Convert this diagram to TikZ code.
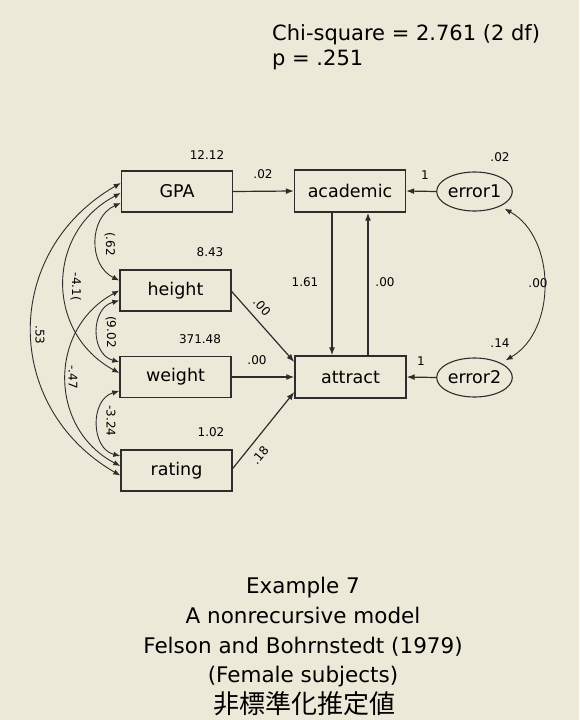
\documentclass[tikz,border=0pt]{standalone}
\usepackage{fontspec}
\setmainfont{DejaVu Sans}
\newfontfamily\jpfont{Noto Sans CJK JP}
\usetikzlibrary{arrows.meta,shapes.geometric,calc}
\definecolor{bgc}{RGB}{236,233,216}
\definecolor{ln}{RGB}{45,45,45}
\begin{document}
\begin{tikzpicture}[x=1pt,y=-1pt,
  var/.style={draw=ln, line width=1.4pt, minimum width=111pt, minimum height=41pt, inner sep=0pt, font=\fontsize{17.5}{20}\selectfont},
  err/.style={ellipse, draw=ln, line width=1.1pt, minimum width=75pt, minimum height=39pt, inner sep=0pt, font=\fontsize{17.5}{20}\selectfont},
  conn/.style={draw=ln, line width=1.2pt, -{Latex[length=8pt,width=6pt]}},
  cov/.style={draw=ln, line width=0.9pt, {Latex[length=7pt,width=5.5pt]}-{Latex[length=7pt,width=5.5pt]}},
  num/.style={font=\fontsize{12}{14}\selectfont, inner sep=0pt},
  ttl/.style={font=\fontsize{21.5}{24}\selectfont, inner sep=0pt}
]
\fill[bgc] (0,0) rectangle (579,720);
\useasboundingbox (0,0) rectangle (579,720);

% header
\node[ttl, anchor=base west, font=\fontsize{21}{24}\selectfont] (chi) at (272,40) {Chi-square = 2.761 (2 df)};
\node[ttl, anchor=base west, font=\fontsize{21}{24}\selectfont] (pval) at (272,65) {p = .251};

% observed variables
\node[var] (GPA) at (177,191.5) {GPA};
\node[var] (height) at (175.5,290.5) {height};
\node[var] (weight) at (175.5,377) {weight};
\node[var] (rating) at (176.5,470.5) {rating};
\node[var, minimum height=42pt] (academic) at (350,191) {academic};
\node[var, minimum height=42pt] (attract) at (350.5,377) {attract};
\node[err] (error1) at (474.5,191.5) {error1};
\node[err] (error2) at (474.5,377.5) {error2};

% anchor points
\coordinate (g1) at ($(GPA.west)+(0,-8.5)$);
\coordinate (g2) at ($(GPA.west)+(0,1.5)$);
\coordinate (g3) at ($(GPA.west)+(0,11.5)$);
\coordinate (h1) at ($(height.west)+(0,-10)$);
\coordinate (h2) at ($(height.west)+(0,0)$);
\coordinate (h3) at ($(height.west)+(0,10)$);
\coordinate (w1) at ($(weight.west)+(0,-15)$);
\coordinate (w2) at ($(weight.west)+(0,-4)$);
\coordinate (w3) at ($(weight.west)+(0,14)$);
\coordinate (r1) at ($(rating.west)+(0,-14.5)$);
\coordinate (r2) at ($(rating.west)+(0,-4.5)$);
\coordinate (r3) at ($(rating.west)+(0,5)$);
\coordinate (a1) at ($(attract.west)+(0,-15)$);
\coordinate (a3) at ($(attract.west)+(0,15)$);
\coordinate (acdn) at ($(academic.south)+(-18,0)$);
\coordinate (atdn) at ($(attract.north)+(-18.5,0)$);
\coordinate (acup) at ($(academic.south)+(18,0)$);
\coordinate (atup) at ($(attract.north)+(17.5,0)$);
\coordinate (hr) at ($(height.east)+(0,1)$);
\coordinate (rr) at ($(rating.east)+(0,-2)$);

% regression paths
\draw[conn] (GPA.east) -- (academic.west);
\draw[conn] (hr) -- (a1);
\draw[conn] (weight.east) -- (attract.west);
\draw[conn] (rr) -- (a3);
\draw[conn] (acdn) -- (atdn);
\draw[conn] (atup) -- (acup);
\draw[conn] (error1.west) -- (academic.east);
\draw[conn] (error2.west) -- (attract.east);

% covariances
\draw[cov] (g3) to[bend right=65, looseness=1.15] (h1);
\draw[cov] (h3) to[bend right=75, looseness=1.25] (w1);
\draw[cov] (w3) to[bend right=75, looseness=1.2] (r1);
\draw[cov] (g2) to[bend right=62, looseness=1.2] (w2);
\draw[cov] (h2) to[bend right=62, looseness=1.18] (r2);
\draw[cov] (g1) to[bend right=60, looseness=1.2] (r3);
\draw[cov] ($(error1.south east)+(3,3)$) to[bend left=60] ($(error2.north east)+(4,-3)$);

% variance labels
\node[num] (vGPA) at (207,155) {12.12};
\node[num] (vh) at (210,252) {8.43};
\node[num] (vw) at (200,339) {371.48};
\node[num] (vr) at (211,432) {1.02};
\node[num] (ve1) at (500,157) {.02};
\node[num] (ve2) at (500,343) {.14};

% path labels
\node[num] (lGA) at (263,174) {.02};
\node[num, rotate=-48] (lHA) at (262,307) {.00};
\node[num] (lWA) at (257,360) {.00};
\node[num, rotate=50] (lRA) at (260,455) {.18};
\node[num] (lAcAt) at (305,282) {1.61};
\node[num] (lAtAc) at (385,282) {.00};
\node[num] (l1a) at (425,175) {1};
\node[num] (l1b) at (421,361) {1};
\node[num] (lee) at (538,283) {.00};

% covariance labels
\node[num, rotate=-90] (cGH) at (110,244) {(.62};
\node[num, rotate=-90] (cGW) at (76,287) {-4.1(};
\node[num, rotate=-90] (cHW) at (111,332) {(9.02};
\node[num, rotate=-90] (cGR) at (40,335) {.53};
\node[num, rotate=-90] (cHR) at (73,377) {-.47};
\node[num, rotate=-90] (cWR) at (111,421) {-3.24};

% title
\node[ttl, anchor=base] (t1) at (303,593) {Example 7};
\node[ttl, anchor=base] (t2) at (303,623) {A nonrecursive model};
\node[ttl, anchor=base] (t3) at (303,653) {Felson and Bohrnstedt (1979)};
\node[ttl, anchor=base] (t4) at (303,682) {(Female subjects)};
\node[inner sep=0pt, font=\jpfont\fontsize{26}{28}\selectfont] (t5) at (304,704) {非標準化推定値};
\end{tikzpicture}
\end{document}
